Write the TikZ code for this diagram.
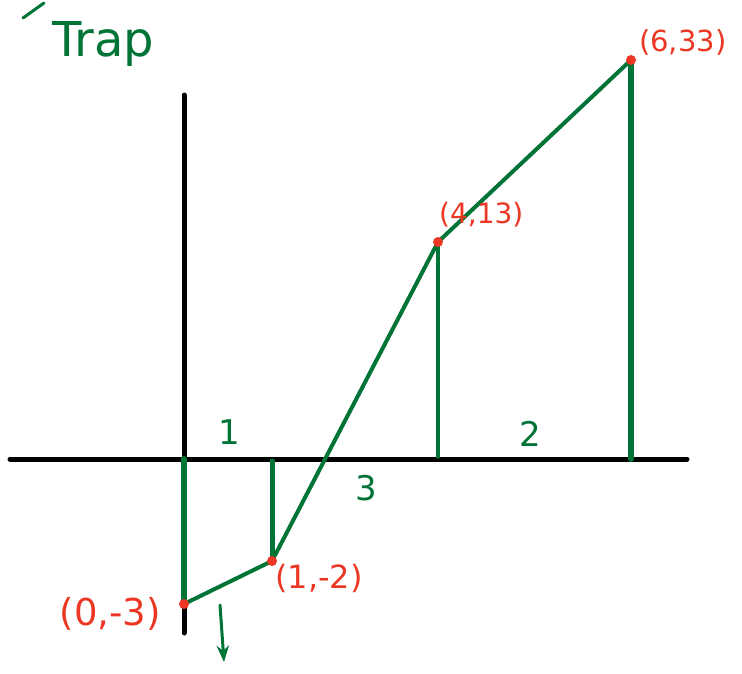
\documentclass[tikz,border=0pt]{standalone}
\usepackage{fontspec}
\setmainfont{DejaVu Sans}
\usepackage{xcolor}
\usetikzlibrary{arrows.meta,positioning}
\definecolor{InkGreen}{RGB}{0, 115, 55}
\definecolor{InkRed}{RGB}{235, 55, 35}

\begin{document}
\begin{tikzpicture}[x=1pt, y=-1pt, >=Stealth, line cap=round,
  axis/.style={draw=black, line width=5pt},
  seg/.style={draw=InkGreen, line width=4pt, line join=round},
  bar/.style={draw=InkGreen, line width=#1},
  pt/.style={circle, fill=InkRed, inner sep=0pt, minimum size=10pt},
  lab/.style={text=InkRed, font=\fontsize{#1}{#1}\selectfont, inner sep=1pt},
  num/.style={text=InkGreen, font=\fontsize{34}{36}\selectfont, inner sep=1pt}]
  \useasboundingbox (0,0) rectangle (742,673);
  % axes
  \coordinate (xl) at (10,459);
  \coordinate (xr) at (687,459);
  \coordinate (yt) at (184,95);
  \coordinate (yb) at (184,633);
  \draw[axis] (xl) -- (xr);
  \draw[axis] (yt) -- (yb);
  % data points
  \coordinate (p0) at (184,604);
  \coordinate (p1) at (272,561);
  \coordinate (p4) at (438,242);
  \coordinate (p6) at (631,60);
  \coordinate (b0) at (184,459);
  \coordinate (b1) at (272,461);
  \coordinate (b4) at (438,457);
  \coordinate (b6) at (631,459);
  % trapezoid sides
  \draw[bar=6pt] (b0) -- (p0);
  \draw[bar=5pt] (b1) -- (p1);
  \draw[bar=3.5pt] (b4) -- (p4);
  \draw[bar=6pt] (b6) -- (p6);
  \draw[seg] (p0) -- (p1) -- (p4) -- (p6);
  \foreach \p in {p0,p1,p4,p6}
    \node[pt] at (\p) {};
  % labels
  \node[lab=37, left=22pt of p0, yshift=-10pt] (l0) {(0,-3)};
  \node[lab=32, right=2pt of p1, yshift=-17pt] (l1) {(1,-2)};
  \node[lab=28, right=0pt of p4, yshift=27pt] (l4) {(4,13)};
  \node[lab=29, right=7pt of p6, yshift=18pt] (l6) {(6,33)};
  \node[num] (n1) at (229,432) {1};
  \node[num] (n2) at (530,434) {2};
  \node[num] (n3) at (366,488) {3};
  \node[text=InkGreen, font=\fontsize{48}{50}\selectfont] (title) at (103,44) {Trap};
  % stray marks
  \coordinate (s1) at (23,18);
  \coordinate (s2) at (44,3);
  \draw[bar=3pt] (s1) -- (s2);
  \coordinate (a1) at (220,605);
  \coordinate (a2) at (224,662);
  \draw[bar=3pt, ->] (a1) -- (a2);
\end{tikzpicture}
\end{document}
